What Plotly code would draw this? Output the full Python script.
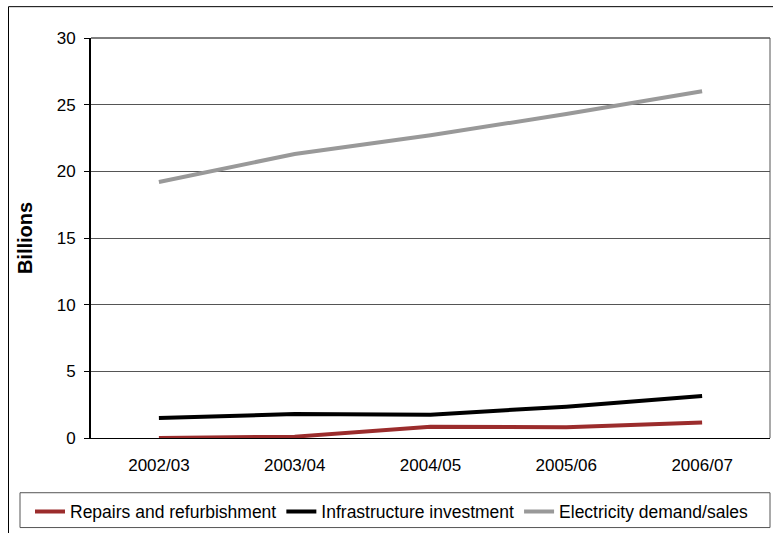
import plotly.graph_objects as go

categories = ["2002/03", "2003/04", "2004/05", "2005/06", "2006/07"]
repairs = [0.0, 0.1, 0.85, 0.8, 1.17]
infrastructure = [1.5, 1.8, 1.75, 2.35, 3.15]
electricity = [19.2, 21.3, 22.7, 24.3, 26.0]
y_ticks = [0, 5, 10, 15, 20, 25, 30]

W, H = 773, 533
L, R, T, B = 91, 3, 38, 93
pw, ph = W - L - R, H - T - B

def px(x):
    return (x - L) / pw

def py(y):
    return (H - B - y) / ph

font = "Liberation Sans, Arial, sans-serif"

fig = go.Figure()
fig.add_trace(go.Scatter(x=categories, y=repairs, mode="lines", name="Repairs and refurbishment",
                         line=dict(color="#9B2C2C", width=4)))
fig.add_trace(go.Scatter(x=categories, y=infrastructure, mode="lines", name="Infrastructure investment",
                         line=dict(color="#000000", width=4)))
fig.add_trace(go.Scatter(x=categories, y=electricity, mode="lines", name="Electricity demand/sales",
                         line=dict(color="#999999", width=4)))

fig.update_layout(
    width=W, height=H,
    margin=dict(l=L, r=R, t=T, b=B),
    paper_bgcolor="white", plot_bgcolor="white",
    font=dict(family=font, size=17, color="black"),
    showlegend=True,
    legend=dict(orientation="h", x=px(30), y=py(496), xanchor="left", yanchor="top",
                font=dict(size=17.5), borderwidth=0, bgcolor="rgba(0,0,0,0)",
                itemwidth=30, tracegroupgap=0),
    xaxis=dict(type="category", range=[-0.5, 4.5], showgrid=False, ticks="",
               showline=True, linecolor="black", linewidth=1, mirror=False,
               ticklabelstandoff=12, tickfont=dict(size=17)),
    yaxis=dict(range=[0, 30], tickvals=y_ticks, showgrid=True, gridcolor="#555555", gridwidth=1,
               ticks="outside", ticklen=5, tickcolor="black", showline=True, linecolor="black",
               linewidth=2, zeroline=False, ticklabelstandoff=5, tickfont=dict(size=17),
               title=dict(text="<b>Billions</b>", font=dict(size=20), standoff=19)),
    shapes=[
        dict(type="line", xref="paper", yref="paper", x0=0, x1=1, y0=1, y1=1,
             line=dict(color="black", width=1)),
        dict(type="line", xref="paper", yref="paper", x0=1, x1=1, y0=0, y1=1,
             line=dict(color="#555555", width=1)),
        dict(type="rect", xref="paper", yref="paper", x0=px(20), x1=px(770), y0=py(495), y1=py(530),
             line=dict(color="#555555", width=1)),
        dict(type="rect", xref="paper", yref="paper", x0=px(8.5), x1=px(790), y0=py(6.5), y1=py(560),
             line=dict(color="black", width=1)),
    ],
)

fig.write_html("out.html")
